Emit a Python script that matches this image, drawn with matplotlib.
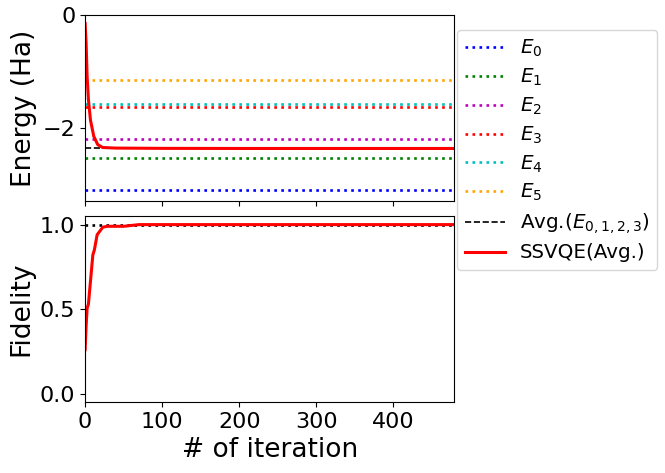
import matplotlib
matplotlib.use("Agg")
import matplotlib.pyplot as plt

# exact energies (Ha)
energy_labels = [r"$E_0$", r"$E_1$", r"$E_2$", r"$E_3$", r"$E_4$", r"$E_5$"]
energy_values = [-3.10, -2.54, -2.195, -1.634, -1.575, -1.15]
energy_colors = ["blue", "green", "m", "red", "c", "orange"]
avg_energy = sum(energy_values[:4]) / 4

# SSVQE average energy vs iteration
iter_energy = [0, 1.3, 2.6, 4.3, 6.9, 11.2, 16.4, 22.9, 40, 100, 200, 300, 400, 479]
ssvqe_energy = [-0.15, -0.5, -1.09, -1.5, -1.86, -2.15, -2.30, -2.35, -2.36,
                -2.365, -2.367, -2.367, -2.367, -2.367]

# fidelity vs iteration
iter_fid = [0, 1.3, 2.6, 4.3, 10, 12, 15.6, 23, 29, 50, 60, 70, 100, 200, 300, 400, 479]
fidelity = [0.26, 0.40, 0.505, 0.53, 0.82, 0.85, 0.94, 0.985, 0.99, 0.99, 0.995, 1.0,
            1.0, 1.0, 1.0, 1.0, 1.0]

fig = plt.figure(figsize=(6.65, 4.73), dpi=100)
ax1 = fig.add_axes([0.128, 0.575, 0.555, 0.393])
ax2 = fig.add_axes([0.128, 0.150, 0.555, 0.393], sharex=ax1)

for lab, val, col in zip(energy_labels, energy_values, energy_colors):
    ax1.axhline(val, color=col, linestyle=":", linewidth=1.9, label=lab)
ax1.axhline(avg_energy, color="black", linestyle="--", linewidth=1.2,
            label=r"Avg.($E_{0,1,2,3}$)")
ax1.plot(iter_energy, ssvqe_energy, color="red", linewidth=2.2, label="SSVQE(Avg.)")
ax1.set_ylim(-3.3, 0)
ax1.set_yticks([0, -2])
ax1.set_ylabel("Energy (Ha)", fontsize=19)
ax1.tick_params(labelsize=16)
plt.setp(ax1.get_xticklabels(), visible=False)

ax2.axhline(1.0, color="black", linestyle=":", linewidth=1.9)
ax2.plot(iter_fid, fidelity, color="red", linewidth=2.2)
ax2.set_ylim(-0.05, 1.05)
ax2.set_yticks([0.0, 0.5, 1.0])
ax2.set_xlim(0, 479)
ax2.set_xticks([0, 100, 200, 300, 400])
ax2.set_ylabel("Fidelity", fontsize=19)
ax2.set_xlabel("# of iteration", fontsize=19)
ax2.tick_params(labelsize=16)

handles, labels = ax1.get_legend_handles_labels()
fig.legend(handles, labels, loc="upper left", bbox_to_anchor=(457 / 665, 1 - 30 / 473),
           fontsize=14.3, labelspacing=0.38, handletextpad=0.75, borderaxespad=0)

fig.savefig("out.png", dpi=100)
